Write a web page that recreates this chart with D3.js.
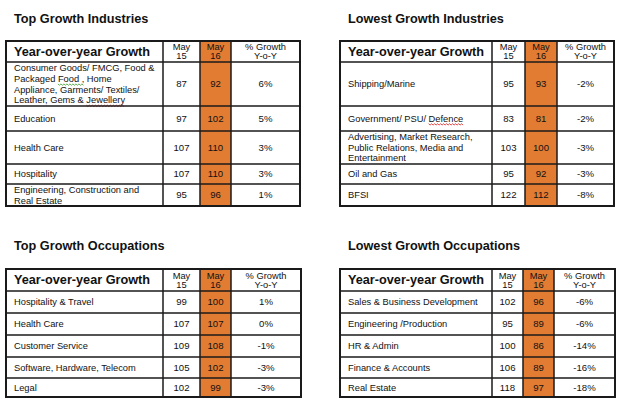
<!DOCTYPE html>
<html>
<head>
<meta charset="utf-8">
<script src="https://cdn.jsdelivr.net/npm/d3@7"></script>
<style>
  html, body { margin: 0; padding: 0; background: #fff; }
  svg { display: block; font-family: "Liberation Sans", Arial, sans-serif; }
</style>
</head>
<body>
<svg id="chart" width="622" height="414"></svg>
<script>
// ---- data ----
const headerLabels = ["Year-over-year Growth", "May\n15", "May\n16", "% Growth\nY-o-Y"];

const topIndustries = [
  "Consumer Goods/ FMCG, Food &\nPackaged Food , Home\nAppliance, Garments/ Textiles/\nLeather, Gems & Jewellery",
  "Education",
  "Health Care",
  "Hospitality",
  "Engineering, Construction and\nReal Estate"
];
const topIndustriesMay15 = [87, 97, 107, 107, 95];
const topIndustriesMay16 = [92, 102, 110, 110, 96];
const topIndustriesGrowth = [6, 5, 3, 3, 1];

const lowIndustries = [
  "Shipping/Marine",
  "Government/ PSU/ Defence",
  "Advertising, Market Research,\nPublic Relations, Media and\nEntertainment",
  "Oil and Gas",
  "BFSI"
];
const lowIndustriesMay15 = [95, 83, 103, 95, 122];
const lowIndustriesMay16 = [93, 81, 100, 92, 112];
const lowIndustriesGrowth = [-2, -2, -3, -3, -8];

const topOccupations = [
  "Hospitality & Travel",
  "Health Care",
  "Customer Service",
  "Software, Hardware, Telecom",
  "Legal"
];
const topOccupationsMay15 = [99, 107, 109, 105, 102];
const topOccupationsMay16 = [100, 107, 108, 102, 99];
const topOccupationsGrowth = [1, 0, -1, -3, -3];

const lowOccupations = [
  "Sales & Business Development",
  "Engineering /Production",
  "HR & Admin",
  "Finance & Accounts",
  "Real Estate"
];
const lowOccupationsMay15 = [102, 95, 100, 106, 118];
const lowOccupationsMay16 = [96, 89, 86, 89, 97];
const lowOccupationsGrowth = [-6, -6, -14, -16, -18];

// ---- layout ----
const ORANGE = "#e27c33";
const INK = "#111";
const svg = d3.select("#chart");
const colKeys = ["label", "may15", "may16", "growth", "end"];
const topRows = [44, 25, 33, 20, 22];
const bottomRows = [22, 22, 22, 21, 19];

const tables = [
  { title: "Top Growth Industries", titleY: 22.7, top: 41, headH: 21, rowH: topRows,
    cols: [6, 163, 200, 231, 300],
    labels: topIndustries, may15: topIndustriesMay15, may16: topIndustriesMay16, growth: topIndustriesGrowth,
    squiggles: [{ row: 0, line: 1, word: "Food ,", color: "#3a9a2a" }, { row: 0, line: 3, word: "Jewellery", color: "#e02020" }] },
  { title: "Lowest Growth Industries", titleY: 22.7, top: 41, headH: 21, rowH: topRows,
    cols: [340, 492, 525, 557, 614],
    labels: lowIndustries, may15: lowIndustriesMay15, may16: lowIndustriesMay16, growth: lowIndustriesGrowth,
    squiggles: [{ row: 1, line: 0, word: "Defence", color: "#e02020" }] },
  { title: "Top Growth Occupations", titleY: 250, top: 269, headH: 22, rowH: bottomRows,
    cols: [6, 163, 200, 231, 301],
    labels: topOccupations, may15: topOccupationsMay15, may16: topOccupationsMay16, growth: topOccupationsGrowth,
    squiggles: [] },
  { title: "Lowest Growth Occupations", titleY: 250, top: 269, headH: 22, rowH: bottomRows,
    cols: [340, 492, 523, 554, 615],
    labels: lowOccupations, may15: lowOccupationsMay15, may16: lowOccupationsMay16, growth: lowOccupationsGrowth,
    squiggles: [] }
];

// multi-line text centred vertically on cy
function cellText(g, str, x, cy, opts) {
  const lines = str.split("\n");
  const lh = opts.lineHeight;
  const t = g.append("text")
    .attr("font-size", opts.size)
    .attr("font-weight", opts.weight || "normal")
    .attr("text-anchor", opts.anchor || "start")
    .attr("fill", INK);
  lines.forEach((ln, i) => {
    t.append("tspan")
      .attr("x", x)
      .attr("y", cy + (i - (lines.length - 1) / 2) * lh + opts.size * 0.35)
      .text(ln);
  });
  return t;
}

function drawTable(spec) {
  const g = svg.append("g");
  const edges = [spec.top, spec.top + spec.headH]
    .concat(Array.from(d3.cumsum(spec.rowH), h => spec.top + spec.headH + h));
  const y = d3.scaleOrdinal().domain(d3.range(edges.length)).range(edges);
  const x = d3.scaleOrdinal().domain(colKeys).range(spec.cols);
  const bottom = y(edges.length - 1);
  const mid = (a, b) => (x(a) + x(b)) / 2;

  g.append("text")
    .attr("x", x("label") + 8)
    .attr("y", spec.titleY)
    .attr("font-size", 12.7)
    .attr("font-weight", "bold")
    .attr("fill", INK)
    .text(spec.title);

  // highlighted May 16 column
  g.append("rect")
    .attr("x", x("may16"))
    .attr("y", y(0))
    .attr("width", x("growth") - x("may16"))
    .attr("height", bottom - y(0))
    .attr("fill", ORANGE);

  // header
  const hc = (y(0) + y(1)) / 2;
  cellText(g, headerLabels[0], x("label") + 8, hc, { size: 12.7, weight: "bold", lineHeight: 13 });
  cellText(g, headerLabels[1], mid("may15", "may16"), hc, { size: 9.3, anchor: "middle", lineHeight: 9.3 });
  cellText(g, headerLabels[2], mid("may16", "growth"), hc, { size: 9.3, anchor: "middle", lineHeight: 9.3 });
  cellText(g, headerLabels[3], mid("growth", "end"), hc, { size: 9.3, anchor: "middle", lineHeight: 9.3 });

  // body rows
  const labelNodes = [];
  spec.labels.forEach((lab, i) => {
    const cy = (y(i + 1) + y(i + 2)) / 2;
    labelNodes.push(cellText(g, lab, x("label") + 8, cy, { size: 9.3, lineHeight: 10.6 }));
    cellText(g, String(spec.may15[i]), mid("may15", "may16"), cy, { size: 9.6, anchor: "middle", lineHeight: 10 });
    cellText(g, String(spec.may16[i]), mid("may16", "growth"), cy, { size: 9.6, anchor: "middle", lineHeight: 10 });
    cellText(g, spec.growth[i] + "%", mid("growth", "end"), cy, { size: 9.6, anchor: "middle", lineHeight: 10 });
  });

  // spell-check squiggles under flagged words
  spec.squiggles.forEach(s => {
    const tspan = labelNodes[s.row].selectAll("tspan").nodes()[s.line];
    const txt = tspan.textContent;
    const idx = txt.indexOf(s.word);
    const textEl = labelNodes[s.row].node();
    const offset = labelNodes[s.row].selectAll("tspan").nodes()
      .slice(0, s.line).reduce((a, n) => a + n.textContent.length, 0);
    const x0 = textEl.getStartPositionOfChar(offset + idx).x;
    const x1 = textEl.getEndPositionOfChar(offset + idx + s.word.length - 1).x;
    const by = +d3.select(tspan).attr("y") + 2;
    const pts = d3.range(x0, x1 + 0.1, 1.5).map((px, k) => [px, by + (k % 2 ? 1.3 : 0)]);
    g.append("path")
      .attr("d", d3.line()(pts))
      .attr("fill", "none")
      .attr("stroke", s.color)
      .attr("stroke-width", 0.8);
  });

  // grid
  g.selectAll("line.h")
    .data(edges.slice(1, -1))
    .join("line")
    .attr("x1", x("label")).attr("x2", x("end"))
    .attr("y1", d => d).attr("y2", d => d)
    .attr("stroke", "#1a1a1a").attr("stroke-width", 1.5);
  g.selectAll("line.v")
    .data(colKeys.slice(1, -1))
    .join("line")
    .attr("x1", d => x(d)).attr("x2", d => x(d))
    .attr("y1", y(0)).attr("y2", bottom)
    .attr("stroke", "#1a1a1a").attr("stroke-width", 1.5);
  g.append("rect")
    .attr("x", x("label"))
    .attr("y", y(0))
    .attr("width", x("end") - x("label"))
    .attr("height", bottom - y(0))
    .attr("fill", "none")
    .attr("stroke", "#1a1a1a")
    .attr("stroke-width", 2);
}

tables.forEach(drawTable);
</script>
</body>
</html>
